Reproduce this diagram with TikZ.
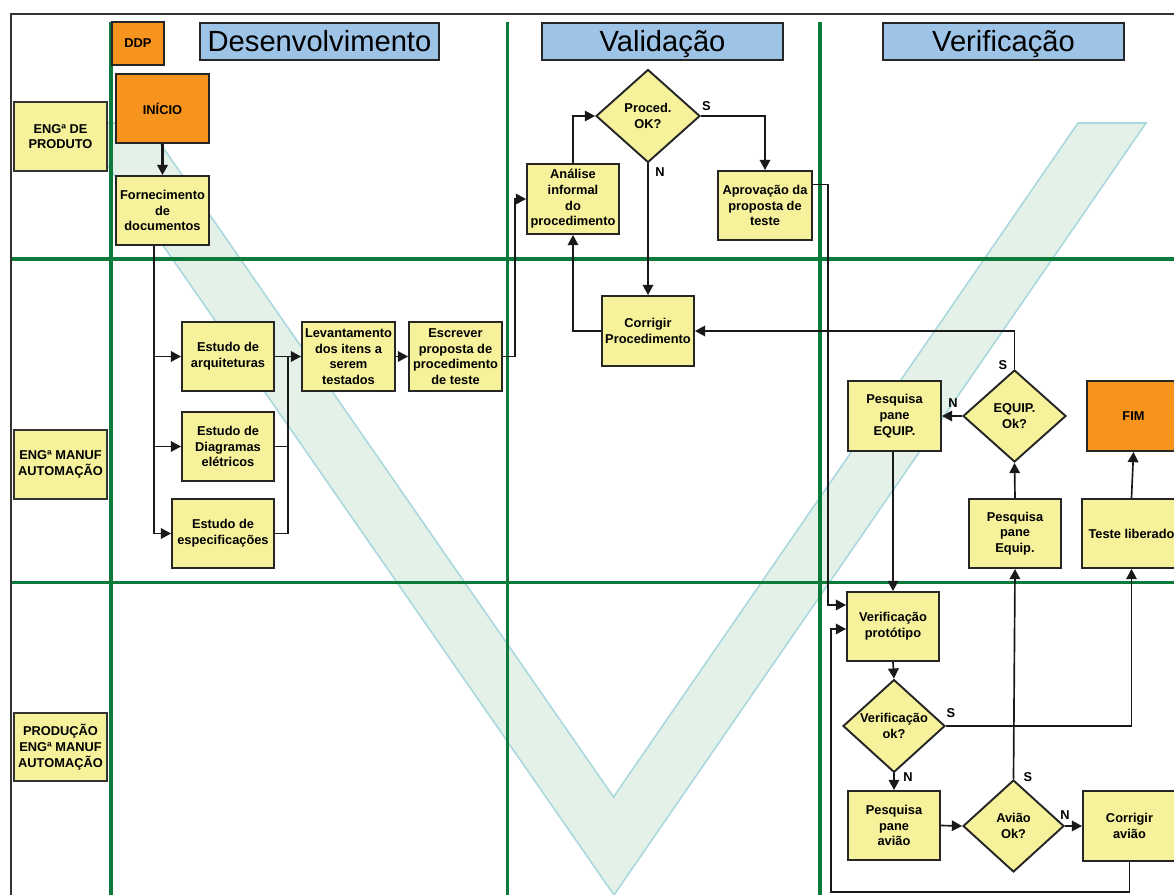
\documentclass[tikz,border=0pt]{standalone}
\usepackage{fontspec}
\setmainfont{Liberation Sans}
\usetikzlibrary{shapes.geometric,arrows.meta}

\definecolor{boxyellow}{HTML}{F5F29B}
\definecolor{boxorange}{HTML}{F7941E}
\definecolor{titleblue}{HTML}{9DC3E6}
\definecolor{lanegreen}{HTML}{0B7A3B}
\definecolor{vfill}{HTML}{E3F1E8}
\definecolor{vedge}{HTML}{A9D8DD}
\definecolor{framegray}{HTML}{333333}

\tikzset{
  sz/.style 2 args={minimum width=#1*0.02cm, minimum height=#2*0.02cm},
  txt/.style={font=\fontsize{7.3}{8.9}\selectfont\bfseries, align=center},
  proc/.style={draw=black!85, line width=1.1pt, fill=boxyellow, inner sep=0pt, txt},
  term/.style={proc, fill=boxorange},
  lane/.style={proc, draw=black!80},
  decision/.style={diamond, draw=black!85, line width=1.1pt, fill=boxyellow, inner sep=0pt, txt},
  phase/.style={draw=black!85, line width=1.1pt, fill=titleblue, inner sep=0pt,
                text height=11.9pt, text depth=0pt,
                font=\fontsize{16.6}{18}\selectfont},
  link/.style={draw=black!90, line width=0.95pt},
  arr/.style={link, -{Triangle[length=5.8pt,width=6pt]}},
  yn/.style={font=\fontsize{7.3}{8.9}\selectfont\bfseries, inner sep=0pt},
  sep/.style={draw=lanegreen, line width=1.8pt}
}

\begin{document}
\begin{tikzpicture}[x=0.02cm, y=-0.02cm]
\useasboundingbox (0,0) rectangle (1174,895);
\clip (0,0) rectangle (1174,895);
\fill[white] (0,0) rectangle (1174,895);

% large "V" watermark behind the swimlanes
\filldraw[fill=vfill, draw=vedge, line width=0.9pt]
  (78,123) -- (146,123) -- (613.5,797) -- (1078,123) -- (1146,123) -- (614,895) -- cycle;

% swimlane separators
\draw[sep] (111,22) -- (111,905);
\draw[sep] (507.5,22) -- (507.5,905);
\draw[sep] (820,22) -- (820,905);
\draw[sep] (11,259) -- (1180,259);
\draw[sep] (11,582.5) -- (1180,582.5);

% outer frame
\draw[framegray, line width=1.2pt] (11,14) rectangle (1200,920);

% lane names
\node[lane, sz={93}{69}] (lnProd) at (60.5,136.5) {ENGª DE\\PRODUTO};
\node[lane, sz={93}{69}] (lnManuf) at (60.5,464.5) {ENGª MANUF\\AUTOMAÇÃO};
\node[lane, sz={93}{68}] (lnProducao) at (60.5,747) {PRODUÇÃO\\ENGª MANUF\\AUTOMAÇÃO};

% phase titles
\node[term, sz={52}{43}] (ddp) at (138,43.5) {DDP};
\node[phase, sz={239}{37}] (phDev) at (319.5,41.5) {Desenvolvimento};
\node[phase, sz={241}{37}] (phVal) at (662.5,41.5) {Validação};
\node[phase, sz={241}{37}] (phVer) at (1003.5,41.5) {Verificação};

% development
\node[term, sz={93}{69}] (inicio) at (162.5,108.5) {INÍCIO};
\node[proc, sz={93}{69}] (forn) at (162.5,210.5) {Fornecimento\\de\\documentos};
\node[proc, sz={92}{69}] (arq) at (228,356.5) {Estudo de\\arquiteturas};
\node[proc, sz={92}{69}] (diag) at (228,446.5) {Estudo de\\Diagramas\\elétricos};
\node[proc, sz={102}{69}] (espec) at (223,533.5) {Estudo de\\especificações};
\node[proc, sz={93}{69}] (lev) at (348.5,356.5) {Levantamento\\dos itens a\\serem\\testados};
\node[proc, sz={93}{69}] (escr) at (455.5,356.5) {Escrever\\proposta de\\procedimento\\de teste};

% validation
\node[proc, sz={92}{70}] (anal) at (573,199) {Análise\\informal\\do\\procedimento};
\node[decision, sz={104}{93}] (dProc) at (648,116) {Proced.\\OK?};
\node[proc, sz={94}{69}] (aprov) at (765,205.5) {Aprovação da\\proposta de\\teste};
\node[proc, sz={92}{70}] (corrP) at (648,331) {Corrigir\\Procedimento};

% verification
\node[proc, sz={93}{70}] (pqEq) at (894.5,416) {Pesquisa\\pane\\EQUIP.};
\node[decision, sz={103}{92}] (dEq) at (1014.5,416) {EQUIP.\\Ok?};
\node[term, sz={93}{70}] (fim) at (1133.5,416) {FIM};
\node[proc, sz={92}{69}] (pqEq2) at (1015,533.5) {Pesquisa\\pane\\Equip.};
\node[proc, sz={99}{69}] (teste) at (1131.5,533.5) {Teste liberado};
\node[proc, sz={92}{69}] (verP) at (893,626.5) {Verificação\\protótipo};
\node[decision, sz={102}{91}] (dVer) at (894,726) {Verificação\\ok?};
\node[proc, sz={92}{69}] (pqAv) at (894,825.5) {Pesquisa\\pane\\avião};
\node[decision, sz={101}{92}] (dAv) at (1013.5,826) {Avião\\Ok?};
\node[proc, sz={93}{70}] (corrAv) at (1129.5,826) {Corrigir\\avião};

% routing helpers
\coordinate (fx) at (154,0);
\coordinate (jx) at (288,0);
\coordinate (ex) at (515,0);
\coordinate (ax) at (828,0);
\coordinate (ay) at (0,184.5);
\coordinate (bx) at (831,0);
\coordinate (by) at (0,892);
\coordinate (vin1) at (verP.west |- 0,605);
\coordinate (vin2) at (verP.west |- 0,629);

% development flow
\draw[arr, line width=1.3pt] (inicio) -- (forn);
\draw[arr] (forn.south -| fx) -- (fx |- espec.west) -- (espec.west);
\draw[arr] (fx |- arq.west) -- (arq.west);
\draw[arr] (fx |- diag.west) -- (diag.west);
\draw[link] (arq.east) -- (jx |- arq.east) -- (jx |- espec.east) -- (espec.east);
\draw[link] (diag.east) -- (jx |- diag.east);
\draw[arr] (jx |- arq.east) -- (lev.west);
\draw[arr] (lev) -- (escr);
\draw[arr] (escr.east) -- (ex |- escr.east) |- (anal.west);

% validation flow
\draw[arr] (anal.north) |- (dProc.west);
\draw[arr] (dProc.east) -| (aprov.north);
\draw[arr] (dProc.south) -- (corrP.north);
\draw[arr] (corrP.west) -| (anal.south);
\draw[arr] (aprov.east |- ay) -- (ax |- ay) -- (ax |- vin1) -- (vin1);

% verification flow
\draw[arr] (dEq.north) |- (corrP.east);
\draw[arr] (dEq.west) -- (pqEq.east);
\draw[arr] (pqEq.south -| verP.north) -- (verP.north);
\draw[arr] (pqEq2.north) -- (dEq.south);
\draw[arr] (teste.north) -- (fim.south);
\draw[arr] (verP.south) -- (dVer.north);
\draw[arr] (dVer.east) -| (teste.south);
\draw[arr] (dVer.south) -- (pqAv.north);
\draw[arr] (pqAv.east) -- (dAv.west);
\draw[arr] (dAv.north) -- (pqEq2.south);
\draw[arr] (dAv.east) -- (corrAv.west);
\draw[arr] (corrAv.south) -- (corrAv.south |- by) -- (bx |- by) -- (bx |- vin2) -- (vin2);

% decision outcomes
\node[yn] (sProc) at (706.5,106) {S};
\node[yn] (nProc) at (660,172) {N};
\node[yn] (sEq) at (1003,365) {S};
\node[yn] (nEq) at (953,403) {N};
\node[yn] (sVer) at (951,713) {S};
\node[yn] (nVer) at (908,777) {N};
\node[yn] (sAv) at (1028,777) {S};
\node[yn] (nAv) at (1065,815) {N};
\end{tikzpicture}
\end{document}
